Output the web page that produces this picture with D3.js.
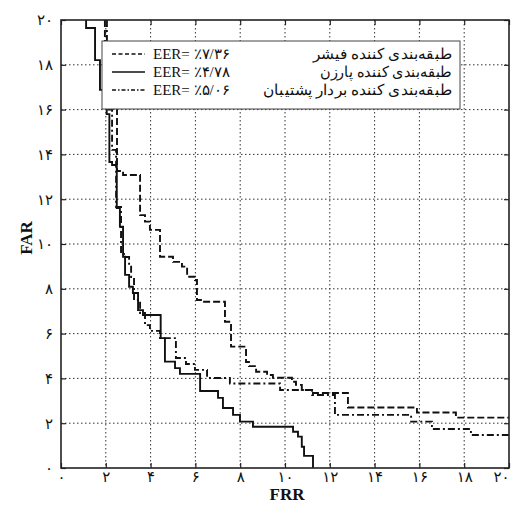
<!DOCTYPE html>
<html>
<head>
<meta charset="utf-8">
<script src="https://cdn.jsdelivr.net/npm/d3@7"></script>
<style>
  html, body { margin: 0; padding: 0; background: #fff; }
  svg { display: block; }
</style>
</head>
<body>
<svg id="chart" width="516" height="521"></svg>
<script>
// ---- data ----
const xTicks = [0, 2, 4, 6, 8, 10, 12, 14, 16, 18, 20];
const yTicks = [0, 2, 4, 6, 8, 10, 12, 14, 16, 18, 20];
const tickLabels = ["۰", "۲", "۴", "۶", "۸", "۱۰", "۱۲", "۱۴", "۱۶", "۱۸", "۲۰"];

const fisherFRR = [1.96, 2.27, 2.5, 2.77, 3.53, 3.75, 3.97, 4.42, 5.0, 5.40, 5.63, 5.98, 6.07, 6.34, 7.32, 7.59, 8.26, 8.39, 8.71, 9.20, 9.46, 10.31, 10.49, 10.75, 11.19, 12.81, 15.89, 17.63, 20];
const fisherFAR = [20, 17.77, 16.43, 13.26, 13.08, 11.29, 11.0, 10.63, 9.43, 9.20, 8.99, 8.54, 8.39, 7.5, 7.42, 6.53, 5.42, 4.73, 4.55, 4.30, 4.15, 4.03, 3.85, 3.71, 3.48, 3.35, 2.70, 2.48, 2.25];

const parzenFRR = [1.12, 1.52, 1.74, 1.92, 2.04, 2.16, 2.28, 2.49, 2.63, 2.77, 2.86, 3.04, 3.21, 3.44, 3.66, 4.45, 4.64, 5.09, 5.31, 6.21, 7.01, 7.23, 7.68, 7.99, 8.57, 10.36, 10.58, 10.75, 10.85, 11.25, 11.25];
const parzenFAR = [20, 19.64, 18.21, 16.88, 16.2, 15.8, 13.66, 13.53, 11.61, 10.77, 9.43, 8.62, 8.09, 7.81, 7.05, 6.83, 5.80, 4.75, 4.46, 4.20, 3.44, 3.13, 2.68, 2.37, 2.07, 1.84, 1.62, 1.40, 0.95, 0.54, 0];

const svmFRR = [2.05, 2.28, 2.46, 2.68, 2.81, 3.04, 3.13, 3.26, 3.53, 3.75, 3.97, 4.42, 5.13, 5.58, 5.98, 6.52, 7.54, 9.78, 11.21, 12.23, 15.63, 16.56, 18.30, 20];
const svmFAR = [20, 16.0, 14.2, 11.65, 9.6, 9.42, 9.06, 8.53, 7.5, 6.92, 6.38, 6.12, 5.80, 4.91, 4.64, 4.38, 4.02, 3.77, 3.48, 3.26, 2.37, 2.07, 1.74, 1.47];

const seriesNames = ["طبقه‌بندی کننده فیشر", "طبقه‌بندی کننده پارزن", "طبقه‌بندی کننده بردار پشتیبان"];
const eerLabels = ["EER= ٪۷/۳۶", "EER= ٪۴/۷۸", "EER= ٪۵/۰۶"];
const xTitle = "FRR";
const yTitle = "FAR";

// ---- layout ----
const L = 61, R = 509, T = 20, B = 468;
const svg = d3.select("#chart");
const x = d3.scaleLinear().domain([0, 20]).range([L, R]);
const y = d3.scaleLinear().domain([0, 20]).range([B, T]);

const serif = "'Liberation Serif', 'Times New Roman', 'DejaVu Serif', serif";
const digitFont = "'DejaVu Sans', 'Noto Sans', sans-serif";

// grid
const grid = svg.append("g");
grid.selectAll("line.vx").data(xTicks.slice(1, -1)).join("line")
  .attr("x1", d => x(d)).attr("x2", d => x(d)).attr("y1", T).attr("y2", B)
  .attr("stroke", "#333").attr("stroke-width", 1).attr("stroke-dasharray", "1.5,2.5");
grid.selectAll("line.hy").data(yTicks.slice(1, -1)).join("line")
  .attr("y1", d => y(d)).attr("y2", d => y(d)).attr("x1", L).attr("x2", R)
  .attr("stroke", "#333").attr("stroke-width", 1).attr("stroke-dasharray", "1.5,2.5");

// curves
const line = d3.line().x(d => x(d[0])).y(d => y(d[1])).curve(d3.curveStepBefore);
const series = [
  { frr: fisherFRR, far: fisherFAR, dash: "7,3", legendDash: "4,2.5" },
  { frr: parzenFRR, far: parzenFAR, dash: null, legendDash: null },
  { frr: svmFRR, far: svmFAR, dash: "7,3,2,3", legendDash: "4,2,1.5,2" }
];
svg.append("clipPath").attr("id", "pc").append("rect")
  .attr("x", L).attr("y", T).attr("width", R - L).attr("height", B - T);
const curves = svg.append("g").attr("clip-path", "url(#pc)");
series.forEach(s => {
  const pts = s.frr.map((v, i) => [v, s.far[i]]);
  curves.append("path").attr("d", line(pts))
    .attr("fill", "none").attr("stroke", "#111").attr("stroke-width", 1.9)
    .attr("stroke-dasharray", s.dash);
});

// axes (ticks inward)
const axB = d3.axisBottom(x).tickValues(xTicks).tickSize(-5).tickFormat((d, i) => tickLabels[i]).tickPadding(3);
const axL = d3.axisLeft(y).tickValues(yTicks).tickSize(-5).tickFormat((d, i) => tickLabels[i]).tickPadding(8);
const axT = d3.axisTop(x).tickValues(xTicks).tickSize(-5).tickFormat("");
const axR = d3.axisRight(y).tickValues(yTicks).tickSize(-5).tickFormat("");

function style(g) {
  g.select(".domain").remove();
  g.selectAll(".tick line").attr("stroke", "#222").attr("stroke-width", 1.2);
  g.selectAll(".tick text").attr("fill", "#111").style("font-family", digitFont).style("font-size", "15px");
}
const gB = svg.append("g").attr("transform", `translate(0,${B})`).call(axB).call(style);
gB.selectAll(".tick text").filter(d => d === 20).attr("text-anchor", "end").attr("x", 0);
svg.append("g").attr("transform", `translate(${L},0)`).call(axL).call(style);
svg.append("g").attr("transform", `translate(0,${T})`).call(axT).call(style);
svg.append("g").attr("transform", `translate(${R},0)`).call(axR).call(style);

// frame
svg.append("rect").attr("x", L).attr("y", T).attr("width", R - L).attr("height", B - T)
  .attr("fill", "none").attr("stroke", "#222").attr("stroke-width", 1.6);

// titles
svg.append("text").attr("x", (L + R) / 2 + 2).attr("y", 500).attr("text-anchor", "middle")
  .style("font-family", serif).style("font-size", "17px").style("font-weight", "bold").attr("fill", "#111")
  .text(xTitle);
svg.append("text").attr("transform", `translate(32,238) rotate(-90)`).attr("text-anchor", "middle")
  .style("font-family", serif).style("font-size", "17px").style("font-weight", "bold").attr("fill", "#111")
  .text(yTitle);

// legend
const lg = svg.append("g");
lg.append("rect").attr("x", 102).attr("y", 41).attr("width", 358).attr("height", 68)
  .attr("fill", "#fff").attr("stroke", "#444").attr("stroke-width", 1);
const rowsY = [54, 72, 90];
const nameWidths = [139, 132, 189];
series.forEach((s, i) => {
  lg.append("line").attr("x1", 112).attr("x2", 145).attr("y1", rowsY[i]).attr("y2", rowsY[i])
    .attr("stroke", "#111").attr("stroke-width", 1.4).attr("stroke-dasharray", s.legendDash);
  lg.append("text").attr("x", 153).attr("y", rowsY[i]).attr("dy", "0.35em")
    .style("font-family", serif).style("font-size", "15px").attr("fill", "#111")
    .attr("direction", "ltr").style("unicode-bidi", "embed")
    .text(eerLabels[i]);
  lg.append("text").attr("x", 452).attr("y", rowsY[i]).attr("dy", "0.35em").attr("text-anchor", "end")
    .style("font-family", serif).style("font-size", "15px").attr("fill", "#111")
    .attr("textLength", nameWidths[i]).attr("lengthAdjust", "spacingAndGlyphs")
    .text(seriesNames[i]);
});
</script>
</body>
</html>
